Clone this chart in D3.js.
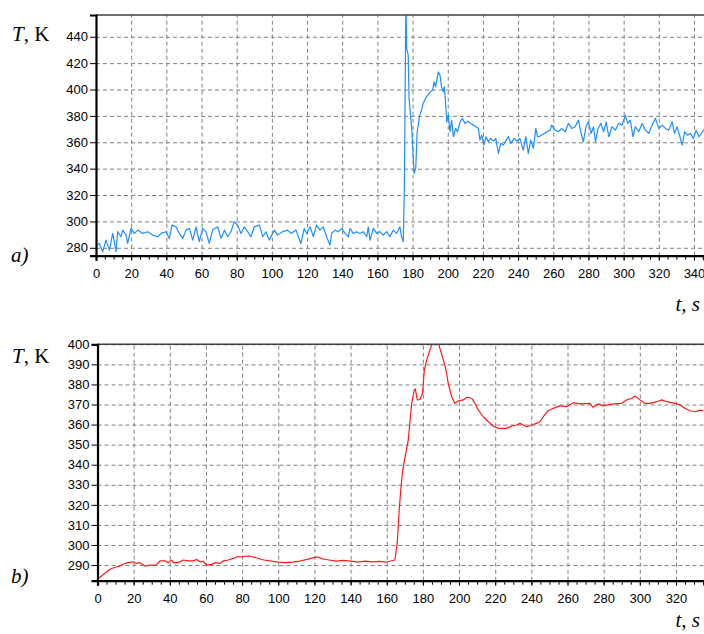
<!DOCTYPE html>
<html>
<head>
<meta charset="utf-8">
<script src="https://cdn.jsdelivr.net/npm/d3@7"></script>
<style>
  body { margin: 0; background: #fff; }
  .tick text { font: 13px "Liberation Sans", Arial, sans-serif; fill: #000; }
  .grid line { stroke: #808080; stroke-dasharray: 4,3; }
  .grid path { display: none; }
  .lbl { font-family: "Liberation Serif", "Times New Roman", serif; font-size: 21px; }
</style>
</head>
<body>
<div id="chart"></div>
<script>
// panel a) noisy thermocouple record, [t, T]
const seriesA = [
  [0,282],[1.9,283.3],[3.8,277],[5.7,285.8],[7.6,278.2],[9.5,290.9],[10.4,284.6],[11.4,277],
  [12.3,292.2],[14.2,288.4],[15.2,293.4],[17.1,289.6],[18,283.3],[19.9,294.7],[21.8,290.9],
  [23.7,293.4],[26.5,290.9],[29.4,292.2],[32.2,289.6],[35.1,288.4],[37,290.9],[39.8,292.2],
  [41.7,287.1],[43.2,297.2],[45.5,295.9],[47.4,290.9],[49.3,287.1],[51.2,293.4],[53.1,294.7],
  [55,285.8],[56.9,295.9],[58.7,284.6],[60.6,294.7],[62.5,292.2],[64.4,283.3],[66.3,293.4],
  [69.2,295.9],[71.1,287.1],[73,293.4],[74.9,288.4],[76.7,292.2],[78.6,299.8],[80.5,297.2],
  [82.4,290.9],[84.3,295.9],[86.2,292.2],[88.1,288.4],[90,295.9],[92.9,297.2],[94.8,288.4],
  [96.6,292.2],[98.5,285.8],[101.4,293.4],[103.3,289.6],[106.1,292.2],[109,293.4],[110.9,290.9],
  [113.7,293.4],[116.5,283.3],[118.4,294.7],[119.8,290.9],[121.7,295.9],[123.6,288.4],
  [125.4,297.2],[127.3,293.4],[129.2,295.9],[131.1,288.4],[133,282],[134,290.9],[135.9,293.4],
  [137.8,292.2],[139.7,294.7],[141.6,290.9],[143.5,288.4],[144.4,294.7],[146.3,290.9],
  [148.2,292.2],[150.1,290.9],[152,292.2],[153.9,288.4],[154.8,295.9],[155.8,285.8],
  [157.7,294.7],[159.6,290.9],[161.4,292.2],[163.3,289.6],[165.2,292.2],[167.1,288.4],
  [169,293.4],[170.9,290.9],[172.8,295.9],[173.7,288.4],[174.7,284.6],
  [175.3,322.5],[175.7,383.1],[176.2,470],[176.6,431.2],[177.5,426.1],[178,393.3],[178.8,380.6],
  [179.5,370.5],[180.3,350.3],[180.9,336.4],[181.8,340.2],[182.6,368],[184.1,380.6],[185.1,384.4],
  [186,389.5],[187.9,394.5],[189.9,397.8],[191.4,399.6],[192.2,405.9],[193.1,402],[194.6,413.4],
  [195.6,410.9],[196.5,402],[197.5,398.3],[198,402],[198.8,389.5],[199.4,375.5],[200.3,380.6],
  [201.3,368],[202.2,376.8],[203.2,364.2],[204.5,370.5],[205.6,368],[207,375.5],[208.3,378.1],
  [209.8,374.3],[211.3,376],[213.1,374.3],[214.6,373],[216.1,371.8],[217.4,370.5],[218.3,361.6],
  [219.3,365.4],[220.6,357.9],[221.8,364.2],[223.1,360.4],[224.4,363],[226,360.9],[227.3,363],
  [228.8,351.6],[230.1,359.2],[231.7,357.9],[233.2,361.6],[234.5,364.2],[235.9,359.2],[237.8,363],
  [239.3,361],[241,362.9],[242.9,354.1],[244.4,364.2],[245.8,351.6],[247.2,361.6],[248.7,355.4],
  [250.1,370.5],[251,364.2],[252.5,364.7],[254.4,366.2],[256.3,368],[258.2,369.2],[259.1,373],
  [261,369.2],[262.9,368],[264.8,370.5],[266.7,368],[268.6,374.3],[270.5,370.5],[272.4,371.8],
  [274.3,376.8],[275.6,368],[277.1,360.4],[278.6,371.8],[280,375.5],[281.5,366.7],[282.9,371.8],
  [284,360.4],[285.5,370.5],[287.1,374.3],[288.6,368],[290.1,375.5],[291.6,364.2],[293.4,371.8],
  [295.3,369.2],[297.2,374.3],[299.1,373],[301,380.6],[302.3,374.3],[303.8,376.8],[305.3,364.2],
  [306.7,371.8],[308.6,368],[310.5,374.3],[312.4,369.2],[314.3,366.7],[316.2,373],[318.1,378.1],
  [320,370.5],[321.9,373],[323.8,370.5],[325.7,369.2],[327.6,375.5],[328.9,366.7],[330.4,371.8],
  [332,364.2],[333.3,357.9],[334.7,368],[336.2,365.4],[338.1,366.7],[339.6,362.9],[341.2,369.2],
  [342.9,364.2],[344.8,368],[346.1,370.5]
];

// panel b) smoothed record, [t, T]
const seriesB = [
  [0,282.9],[1.4,283.9],[4.1,285.9],[6.9,287.9],[9.7,288.9],[12.4,289.5],[14.3,290.5],[17,291.2],
  [19.8,291.6],[21.6,290.8],[23.4,291.2],[26.3,289.5],[29,290],[32.4,290],[34.6,292.1],[37.3,292.1],
  [39.2,291.2],[41,292.5],[41.9,291.2],[44.7,291.2],[47.5,292.5],[50.2,292.1],[53,292.1],[54.8,292.8],
  [56.7,291.6],[58.5,291.9],[60.4,290],[63.2,290.3],[65,291.2],[67.8,290.8],[69.6,292.1],[72.3,292.5],
  [75.1,293.3],[77,294.1],[80,294.2],[84,294.5],[88,293.5],[92,292.5],[96,292],[100,291.5],
  [104,291.2],[108,291.5],[112,292],[116,292.8],[120,293.8],[122,294],[124,293.2],[128,292.5],
  [132,292],[136,292.3],[140,292],[144,291.5],[148,292],[152,291.6],[156,291.8],[160,291.5],
  [164.5,292.5],[165.8,300.8],[166.9,317.4],[167.9,329],[168.8,337],[170.4,345],[171.9,352.3],
  [173.8,370.6],[175.2,377.2],[175.8,377.8],[176.9,372.3],[178.4,372.5],[179.8,375.6],[180.8,387.2],
  [182.1,392.2],[183.9,397.2],[185.4,401],[188.5,401],[189.4,398],[191.3,392.2],[192.8,387.2],
  [194,380.6],[195.9,373.9],[197.7,370.6],[199.6,371.8],[202.3,372.3],[204.5,373.6],[207,373.1],
  [208.8,370.6],[210.6,367.3],[213.4,363.9],[216.2,361.4],[218.9,359.3],[221.7,358.1],[226.3,358.1],
  [229.1,359.3],[231.9,359.8],[233.7,360.6],[235.5,359.8],[237.4,358.9],[240.1,359.8],[242.9,360.6],
  [244.7,361.4],[246.6,363.9],[249.3,366.9],[252.1,368.1],[255.8,369.3],[259.5,368.9],[263.2,370.9],
  [266.9,370.3],[272.4,370.6],[274.2,368.6],[277,370.3],[279.8,369.3],[282.5,369.8],[285.3,370.3],
  [289.9,370.6],[292.7,372.3],[295.5,373.1],[297.3,374.2],[300.1,372.3],[302.8,370.6],[305.6,370.6],
  [309.3,371.4],[312.1,372.3],[314.9,371.4],[319.4,370.6],[322.2,369.8],[325,368.1],[327.8,366.9],
  [330.5,366.4],[333.3,367.2],[335.1,366.9]
];

const ticksXA = d3.range(0, 341, 20);
const ticksYA = d3.range(280, 441, 20);
const ticksXB = d3.range(0, 321, 20);
const ticksYB = d3.range(290, 401, 10);

const W = 704, H = 634;
const svg = d3.select("#chart").append("svg").attr("width", W).attr("height", H);

function panel(opts) {
  const x = d3.scaleLinear().domain(opts.xDomain).range([opts.left, W]);
  const y = d3.scaleLinear().domain(opts.yDomain).range([opts.bottom, opts.top]);
  const g = svg.append("g");

  // dashed grid
  g.append("g").attr("class", "grid")
    .attr("transform", `translate(0,${opts.bottom})`)
    .call(d3.axisBottom(x).tickValues(opts.xTicks.filter(v => v > 0)).tickSize(-(opts.bottom - opts.top)).tickFormat(""));
  g.append("g").attr("class", "grid")
    .attr("transform", `translate(${opts.left},0)`)
    .call(d3.axisLeft(y).tickValues(opts.yTicks).tickSize(-(W - opts.left)).tickFormat(""));

  // data line
  const clipId = "clip" + opts.id;
  svg.append("clipPath").attr("id", clipId).append("rect")
    .attr("x", opts.left).attr("y", opts.top)
    .attr("width", W - opts.left).attr("height", opts.bottom - opts.top);
  g.append("path")
    .datum(opts.data)
    .attr("clip-path", `url(#${clipId})`)
    .attr("fill", "none")
    .attr("stroke", opts.color)
    .attr("stroke-width", 1.2)
    .attr("stroke-linejoin", "round")
    .attr("d", d3.line().x(d => x(d[0])).y(d => y(d[1])));

  // top frame
  g.append("line")
    .attr("x1", opts.left).attr("x2", W)
    .attr("y1", opts.top).attr("y2", opts.top)
    .attr("stroke", "#404040").attr("stroke-width", 1.5);

  // minor x ticks
  g.append("g")
    .attr("transform", `translate(0,${opts.bottom})`)
    .call(d3.axisBottom(x).tickValues(d3.range(0, opts.xDomain[1], 5)).tickSize(4).tickFormat(""))
    .call(a => a.select(".domain").remove());

  // x axis
  const xa = g.append("g")
    .attr("transform", `translate(0,${opts.bottom})`)
    .call(d3.axisBottom(x).tickValues(opts.xTicks).tickSize(5).tickPadding(8));
  xa.select(".domain").attr("stroke", "#000").attr("stroke-width", 2.2);

  // y axis
  const ya = g.append("g")
    .attr("transform", `translate(${opts.left},0)`)
    .call(d3.axisLeft(y).tickValues(opts.yTicks).tickSize(6).tickPadding(2));
  ya.select(".domain").attr("stroke", "#000").attr("stroke-width", 2.2);

  // labels
  const tk = svg.append("text").attr("class", "lbl").attr("x", 12).attr("y", opts.tkY);
  tk.append("tspan").attr("font-style", "italic").text("T");
  tk.append("tspan").text(", K");
  svg.append("text").attr("class", "lbl").attr("x", 11).attr("y", opts.tagY)
    .attr("font-style", "italic").text(opts.tag);
  svg.append("text").attr("class", "lbl").attr("x", 700).attr("y", opts.tsY)
    .attr("text-anchor", "end").attr("font-style", "italic").text("t, s");
}

panel({
  id: "a", data: seriesA, color: "#1e8fff",
  left: 96, top: 15, bottom: 255.7,
  xDomain: [0, 345.7], yDomain: [274, 456.5],
  xTicks: ticksXA, yTicks: ticksYA,
  tkY: 41, tag: "a)", tagY: 262, tsY: 311
});

panel({
  id: "b", data: seriesB, color: "#ff1a1a",
  left: 97.5, top: 344.3, bottom: 580.7,
  xDomain: [0, 335.5], yDomain: [282.2, 400],
  xTicks: ticksXB, yTicks: ticksYB,
  tkY: 363, tag: "b)", tagY: 583, tsY: 627
});
</script>
</body>
</html>
